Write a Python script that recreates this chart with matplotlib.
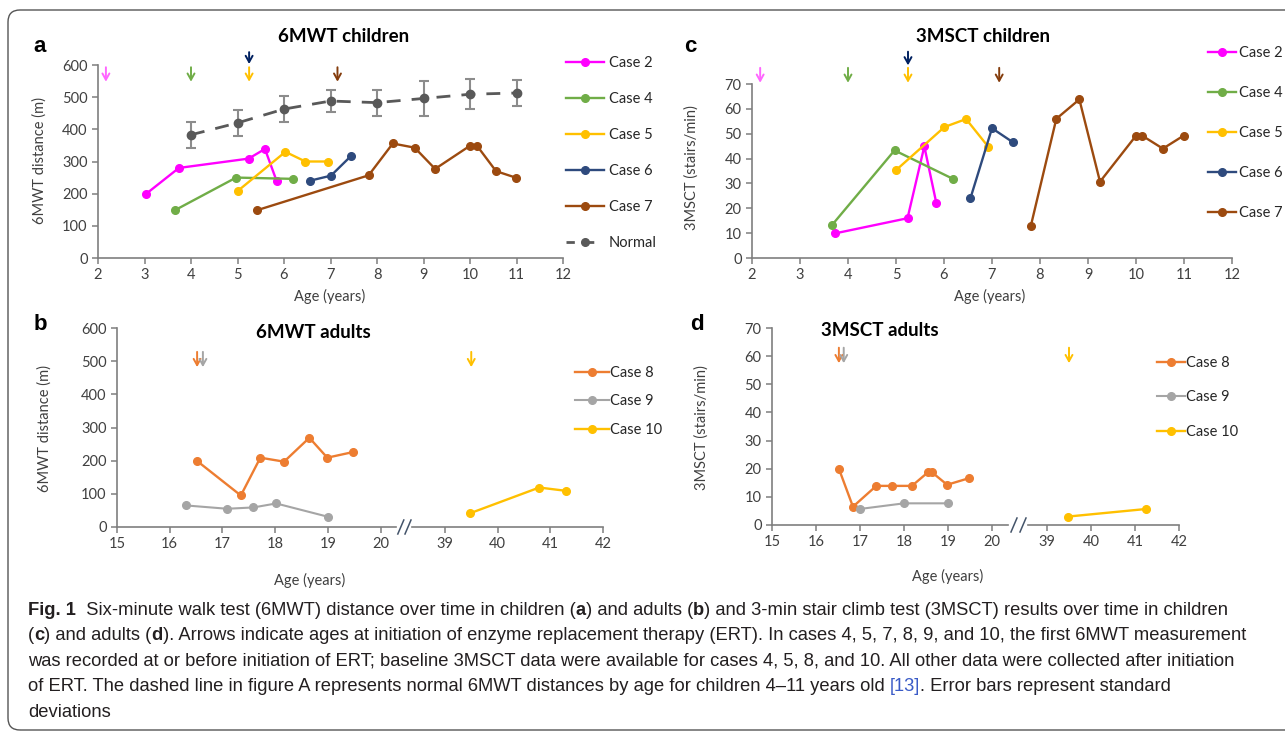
import numpy as np
import matplotlib.pyplot as plt
from matplotlib.lines import Line2D
from matplotlib.patches import FancyBboxPatch
from matplotlib.text import Annotation

W, H = 1285, 736

# ---- data: 6MWT children (panel a) ----
a_c2_age = [3.04, 3.74, 5.24, 5.59, 5.84]
a_c2 = [200, 280, 309, 339, 240]
a_c4_age = [3.66, 4.97, 6.2]
a_c4 = [149, 250, 246]
a_c5_age = [5.01, 6.03, 6.46, 6.94]
a_c5 = [209, 330, 300, 300]
a_c6_age = [6.55, 7.01, 7.44]
a_c6 = [240, 256, 317]
a_c7_age = [5.43, 7.82, 8.34, 8.81, 9.25, 10.0, 10.15, 10.56, 10.98]
a_c7 = [149, 257, 356, 343, 277, 349, 349, 270, 250]
normal_age = [4, 5, 6, 7, 8, 9, 10, 11]
normal_mean = [383, 420, 463, 488, 483, 496, 509, 513]
normal_sd = [40, 40, 41, 34, 40, 53, 46, 40]

# ---- data: 3MSCT children (panel c) ----
c_c2_age = [3.73, 5.24, 5.59, 5.84]
c_c2 = [9.9, 16, 44.9, 22.1]
c_c4_age = [3.66, 4.97, 6.18]
c_c4 = [13.1, 43.3, 31.9]
c_c5_age = [5.01, 6.01, 6.46, 6.92]
c_c5 = [35.5, 52.7, 55.9, 44.8]
c_c6_age = [6.55, 7.0, 7.44]
c_c6 = [24, 52.2, 46.5]
c_c7_age = [7.81, 8.34, 8.82, 9.25, 10.0, 10.13, 10.56, 10.99]
c_c7 = [13, 56, 63.8, 30.7, 49.2, 49.2, 44, 49.2]

# ---- data: 6MWT adults (panel b) ----
b_c8_age = [16.52, 17.35, 17.72, 18.17, 18.65, 18.99, 19.48]
b_c8 = [199, 95, 209, 197, 269, 209, 226]
b_c9_age = [16.31, 17.09, 17.59, 18.02, 19.0]
b_c9 = [65, 55, 59, 71, 31]
b_c10_age = [39.47, 40.79, 41.3]
b_c10 = [41, 119, 109]

# ---- data: 3MSCT adults (panel d) ----
d_c8_age = [16.52, 16.84, 17.37, 17.73, 18.18, 18.55, 18.63, 18.98, 19.47]
d_c8 = [20, 6.5, 13.9, 13.9, 13.9, 18.8, 18.8, 14.3, 16.6]
d_c9_age = [17.0, 18.0, 19.0]
d_c9 = [5.7, 7.7, 7.7]
d_c10_age = [39.48, 41.26]
d_c10 = [3.0, 5.7]

# ages at start of ERT
child_cases = ['Case 2', 'Case 4', 'Case 5', 'Case 6', 'Case 7']
child_ert = [2.17, 4.0, 5.25, 5.25, 7.15]
adult_cases = ['Case 8', 'Case 9', 'Case 10']
adult_ert = [16.52, 16.63, 39.5]

col = {'Case 2': '#FF00FF', 'Case 4': '#70AD47', 'Case 5': '#FFC000',
       'Case 6': '#2E4A7D', 'Case 7': '#9C4A0F', 'Case 8': '#ED7D31',
       'Case 9': '#A5A5A5', 'Case 10': '#FFC000'}
arrow_col = dict(col, **{'Case 2': '#FF66FF', 'Case 6': '#002060', 'Case 7': '#843C0C'})
NORMAL = '#595959'
AX = '#7F7F7F'
TXT = '#404040'

plt.rcParams['font.family'] = ['Lato', 'DejaVu Sans']

fig = plt.figure(figsize=(W / 100, H / 100), dpi=100)


def rect(x0, y0, x1, y1):
    return [x0 / W, 1 - y1 / H, (x1 - x0) / W, (y1 - y0) / H]


def style(ax, left=True):
    ax.patch.set_alpha(0)
    for s in ['top', 'right']:
        ax.spines[s].set_visible(False)
    for s in ['bottom', 'left']:
        ax.spines[s].set_color(AX)
        ax.spines[s].set_linewidth(1.2)
    ax.tick_params(colors=AX, labelcolor=TXT, labelsize=10.5, length=4, width=1.1)
    if not left:
        ax.spines['left'].set_visible(False)
        ax.tick_params(axis='y', left=False, labelleft=False)


def arrow(ax, x, y0, y1, color):
    ax.annotate('', xy=(x, y1), xytext=(x, y0), annotation_clip=False,
                arrowprops=dict(arrowstyle='->,head_length=0.45,head_width=0.25',
                                color=color, lw=1.4, shrinkA=0, shrinkB=0))


def series(ax, x, y, name, lw=1.7):
    return ax.plot(x, y, '-o', color=col[name], lw=lw, ms=5.5, label=name, clip_on=False)[0]


def legend(ax, handles, x, y, pitch, hlen, pad):
    fs = 10.5
    fpx = fs * 100 / 72
    ax.legend(handles=handles, loc='upper left', bbox_to_anchor=(x / W, 1 - y / H),
              bbox_transform=fig.transFigure, frameon=False, borderpad=0, borderaxespad=0,
              fontsize=fs, labelcolor='#262626', handlelength=hlen, handletextpad=pad,
              labelspacing=(pitch - 0.86 * fpx) / fpx)


def break_marks(ax_l, ax_r):
    # two slashes in the gap between the halves of a broken x axis
    xl = ax_l.get_position().x1 * W
    xr = ax_r.get_position().x0 * W
    yb = H - ax_l.get_position().y0 * H
    for cx in [xl + (xr - xl) * 0.3, xl + (xr - xl) * 0.75]:
        fig.add_artist(Line2D([(cx - 3) / W, (cx + 3) / W],
                              [1 - (yb + 7) / H, 1 - (yb - 7) / H],
                              color='#44546A', lw=1.1))


# ---------------- panel a ----------------
ax = fig.add_axes(rect(98, 65, 563, 258))
style(ax)
ax.set_xlim(2, 12)
ax.set_ylim(0, 600)
ax.set_xticks(range(2, 13))
ax.set_yticks(range(0, 601, 100))
hs = []
for name, x, y in zip(child_cases, [a_c2_age, a_c4_age, a_c5_age, a_c6_age, a_c7_age],
                      [a_c2, a_c4, a_c5, a_c6, a_c7]):
    hs.append(series(ax, x, y, name))
ax.errorbar(normal_age, normal_mean, yerr=normal_sd, fmt='o', ms=6, color=NORMAL,
            ecolor='#8C8C8C', elinewidth=1.5, capsize=3.5, capthick=1.5)
ax.plot(normal_age, normal_mean, color=NORMAL, lw=2, dashes=(5, 4))
hs.append(Line2D([], [], color=NORMAL, lw=2, dashes=(3, 4), marker='o', ms=5.5, label='Normal'))
for name, x in zip(child_cases, child_ert):
    if name == 'Case 6':
        arrow(ax, x, 640, 603, arrow_col[name])
    else:
        arrow(ax, x, 593, 548, arrow_col[name])
legend(ax, hs, 566, 56, 34.5, 2.6, 0.35)

# ---------------- panel c ----------------
ax = fig.add_axes(rect(752, 84, 1232, 258))
style(ax)
ax.set_xlim(2, 12)
ax.set_ylim(0, 70)
ax.set_xticks(range(2, 13))
ax.set_yticks(range(0, 71, 10))
hs = []
for name, x, y in zip(child_cases, [c_c2_age, c_c4_age, c_c5_age, c_c6_age, c_c7_age],
                      [c_c2, c_c4, c_c5, c_c6, c_c7]):
    hs.append(series(ax, x, y, name))
for name, x in zip(child_cases, child_ert):
    if name == 'Case 6':
        arrow(ax, x, 83, 77.5, arrow_col[name])
    else:
        arrow(ax, x, 76.5, 70.5, arrow_col[name])
legend(ax, hs, 1208, 46, 38.5, 1.95, 0.15)

# ---------------- panel b ----------------
bl = fig.add_axes(rect(117, 328, 396, 527))
br = fig.add_axes(rect(412, 328, 603, 527))
style(bl)
style(br, left=False)
bl.set_xlim(15, 15 + (396 - 117) / 52.7)
br.set_xlim(42 - (603 - 412) / 52.7, 42)
for a_ in (bl, br):
    a_.set_ylim(0, 600)
bl.set_yticks(range(0, 601, 100))
bl.set_xticks(range(15, 21))
br.set_xticks(range(39, 43))
hs = [series(bl, b_c8_age, b_c8, 'Case 8'),
      series(bl, b_c9_age, b_c9, 'Case 9', lw=1.5),
      series(br, b_c10_age, b_c10, 'Case 10')]
arrow(bl, adult_ert[0], 528, 482, col['Case 8'])
arrow(bl, adult_ert[1], 528, 482, col['Case 9'])
arrow(br, adult_ert[2], 528, 482, col['Case 10'])
legend(br, hs, 575, 366, 27, 2.3, 0.1)

# ---------------- panel d ----------------
dl = fig.add_axes(rect(772, 328, 1008, 525))
dr = fig.add_axes(rect(1028, 328, 1179, 525))
style(dl)
style(dr, left=False)
dl.set_xlim(15, 15 + (1008 - 772) / 44.0)
dr.set_xlim(42 - (1179 - 1028) / 44.0, 42)
for a_ in (dl, dr):
    a_.set_ylim(0, 70)
dl.set_yticks(range(0, 71, 10))
dl.set_xticks(range(15, 21))
dr.set_xticks(range(39, 43))
hs = [series(dl, d_c8_age, d_c8, 'Case 8'),
      series(dl, d_c9_age, d_c9, 'Case 9', lw=1.5),
      series(dr, d_c10_age, d_c10, 'Case 10')]
arrow(dl, adult_ert[0], 63, 57.5, col['Case 8'])
arrow(dl, adult_ert[1], 63, 57.5, col['Case 9'])
arrow(dr, adult_ert[2], 63, 57.5, col['Case 10'])
legend(dr, hs, 1157, 356, 33, 1.9, 0.1)

break_marks(bl, br)
break_marks(dl, dr)

# ---------------- titles, labels, panel letters ----------------
def ftext(x, y, s, **kw):
    return fig.text(x / W, 1 - y / H, s, **kw)


ttl = dict(fontsize=13.5, fontweight='bold', color='black', ha='center', va='center')
ftext(344, 37, '6MWT children', **ttl)
ftext(983, 37, '3MSCT children', **ttl)
ftext(313, 332, '6MWT adults', **ttl)
ftext(880, 331, '3MSCT adults', **ttl)

let = dict(fontsize=16, fontweight='bold', color='black', ha='center', va='center',
           family=['Liberation Sans', 'DejaVu Sans'])
ftext(40, 47, 'a', **let)
ftext(690, 47, 'c', **let)
ftext(40, 325, 'b', **let)
ftext(697, 325, 'd', **let)

lab = dict(fontsize=10.5, color=TXT, ha='center', va='center')
ftext(330, 296, 'Age (years)', **lab)
ftext(990, 296, 'Age (years)', **lab)
ftext(310, 580, 'Age (years)', **lab)
ftext(948, 576, 'Age (years)', **lab)
ftext(40, 160, '6MWT distance (m)', rotation=90, **lab)
ftext(692, 168, '3MSCT (stairs/min)', rotation=90, **lab)
ftext(45, 428, '6MWT distance (m)', rotation=90, **lab)
ftext(702, 428, '3MSCT (stairs/min)', rotation=90, **lab)

# ---------------- caption ----------------
B, N, L = 'bold', 'normal', 'link'
caption = [
    [('Fig. 1', B), ('  Six-minute walk test (6MWT) distance over time in children (', N), ('a', B),
     (') and adults (', N), ('b', B),
     (') and 3-min stair climb test (3MSCT) results over time in children', N)],
    [('(', N), ('c', B), (') and adults (', N), ('d', B),
     ('). Arrows indicate ages at initiation of enzyme replacement therapy (ERT). In cases 4, 5, 7, 8, 9, and 10, the first 6MWT measurement', N)],
    [('was recorded at or before initiation of ERT; baseline 3MSCT data were available for cases 4, 5, 8, and 10. All other data were collected after initiation', N)],
    [('of ERT. The dashed line in figure A represents normal 6MWT distances by age for children 4\u201311 years old ', N),
     ('[13]', L), ('. Error bars represent standard', N)],
    [('deviations', N)],
]
cap_font = ['Liberation Sans', 'DejaVu Sans']

# size the caption so that its first line spans about the same width as in the figure
renderer = fig.canvas.get_renderer()
probe = 0
for s, kind in caption[0]:
    t = fig.text(0, 0, s, fontsize=12, family=cap_font,
                 fontweight='bold' if kind == B else 'normal')
    probe += t.get_window_extent(renderer).width
    t.remove()
cap_size = 12 * 1205 / probe

for i, pieces in enumerate(caption):
    y = 619 + i * 25.4
    prev = None
    for s, kind in pieces:
        kw = dict(fontsize=cap_size, family=cap_font, va='bottom', ha='left',
                  fontweight='bold' if kind == B else 'normal',
                  color='#3A5BC7' if kind == L else '#231F20')
        if prev is None:
            prev = ftext(28, y, s, **kw)
        else:
            t = Annotation(s, xy=(1, 0), xycoords=prev, **kw)
            fig.add_artist(t)
            prev = t

fig.add_artist(FancyBboxPatch((8, 6), 1300, 720, boxstyle='round,pad=0,rounding_size=12',
                              transform=None, fill=False, ec='#555555', lw=1))

fig.savefig('out.png', dpi=100)
